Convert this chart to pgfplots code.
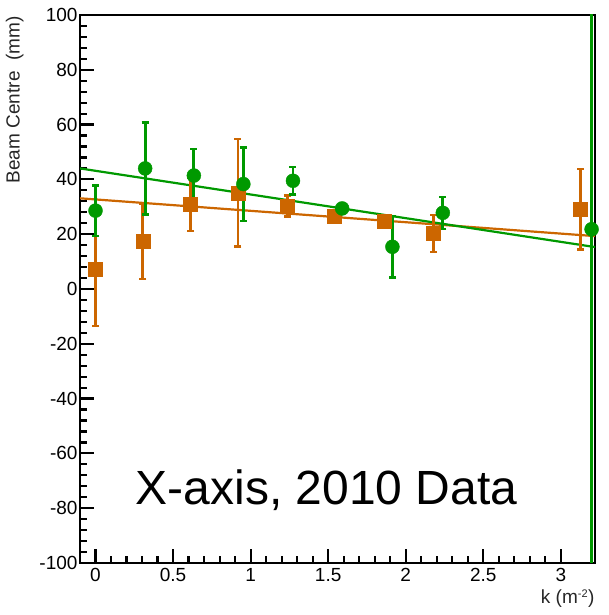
\documentclass[border=0pt]{standalone}
\usepackage{pgfplots}
\pgfplotsset{compat=1.18}
\usepackage{fontspec}
\setmainfont{Liberation Sans}
\definecolor{rorange}{RGB}{204,102,0}
\definecolor{rgreen}{RGB}{0,153,0}
\begin{document}
\begin{tikzpicture}
\begin{axis}[
  scale only axis, width=515pt, height=548pt,
  xmin=-0.1, xmax=3.22, ymin=-100, ymax=100,
  axis line style={line width=2.8pt},
  xtick={0,0.5,...,3}, ytick={-100,-80,...,100},
  minor x tick num=4, minor y tick num=4,
  tick align=inside, xtick pos=bottom, ytick pos=left,
  major tick length=14pt, minor tick length=7pt,
  every tick/.style={black, line width=2.2pt},
  tick label style={font=\fontsize{19}{19}\selectfont, text=black},
  /pgf/number format/assume math mode=true,
  xticklabels={0,0.5,1,1.5,2,2.5,3},
  xticklabel style={yshift=-2pt},
  yticklabel style={xshift=1pt},
  clip=true,
]
% orange fit
\addplot[rorange, line width=2.2pt, forget plot] coordinates {(-0.1,33.1) (3.22,19.3)};
% green fit
\addplot[rgreen, line width=2.2pt, forget plot] coordinates {(-0.1,44.0) (3.22,15.3)};
% orange squares
\addplot[rorange, only marks, mark=square*, mark size=7pt,
  error bars/.cd, y dir=both, y explicit, error bar style={rorange, line width=2.8pt},
  error mark=-, error mark options={rorange, rotate=90, line width=2.4pt, mark size=3.5pt}]
  coordinates {
  (0.0,7.2) +- (0,20.6)
  (0.305,17.3) +- (0,13.7)
  (0.613,30.9) +- (0,9.7)
  (0.918,35.1) +- (0,19.6)
  (1.237,30.3) +- (0,3.8)
  (1.54,26.4) +- (0,1.5)
  (1.863,24.6) +- (0,2.0)
  (2.18,20.3) +- (0,6.7)
  (3.127,29.1) +- (0,14.7)
  };
% green circles
\addplot[rgreen, only marks, mark=*, mark size=7pt,
  error bars/.cd, y dir=both, y explicit, error bar style={rgreen, line width=2.8pt},
  error mark=-, error mark options={rgreen, rotate=90, line width=2.4pt, mark size=3.5pt}]
  coordinates {
  (0.0,28.6) +- (0,9.2)
  (0.32,44.0) +- (0,16.8)
  (0.634,41.4) +- (0,9.8)
  (0.953,38.3) +- (0,13.4)
  (1.273,39.5) +- (0,5.0)
  (1.59,29.4) +- (0,1.0)
  (1.914,15.4) +- (0,11.2)
  (2.239,27.8) +- (0,5.8)
  (3.198,21.8) +- (0,200)
  };
\node[font=\fontsize{48}{48}\selectfont, anchor=base] at (axis cs:1.49,-78.5) {X-axis, 2010 Data};
\end{axis}
\node[rotate=90, anchor=south east, font=\fontsize{19}{19}\selectfont, text=black!85] at ([xshift=-53pt,yshift=2pt]current axis.north west) {Beam Centre~~(mm)};
\node[anchor=north east, font=\fontsize{19}{19}\selectfont, text=black!85] at ([xshift=3pt,yshift=-23pt]current axis.south east) {k (m$^{\mbox{\fontsize{11}{11}\selectfont -2}}$)};
\path[use as bounding box] ([xshift=-80pt,yshift=-52pt]current axis.south west) rectangle ([xshift=13pt,yshift=15pt]current axis.north east);
\end{tikzpicture}
\end{document}
